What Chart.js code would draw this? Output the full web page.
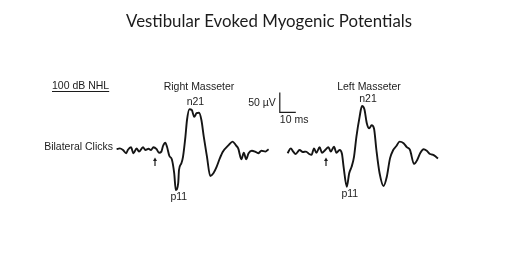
<!DOCTYPE html>
<html>
<head>
<meta charset="utf-8">
<script src="https://cdn.jsdelivr.net/npm/chart.js@4"></script>
<style>
  body { margin: 0; background: #fff; }
  #wrap { width: 520px; height: 258px; }
</style>
</head>
<body>
<div id="wrap"><canvas id="vemp" width="520" height="258"></canvas></div>
<script>
// time in ms after the click (arrow = 0), amplitude in µV (negative = up, n21 is negative)
const rightTime = [-24, -22, -20, -18, -17, -15, -13.5, -11.5, -10, -7.5, -6, -4, -2.5, -1, 1, 2.5, 4, 5, 6.5, 7.5,
  9, 10.5, 12, 13, 14.5, 15, 16.5, 17.5, 19, 20, 21.5, 23, 24.5, 26, 27.5, 29, 30.5, 32.5, 34.5, 36.5,
  38.5, 40.5, 42.5, 46, 48.5, 50.5, 52, 54, 55.5, 57, 58.5, 60.5, 62.5, 64.5, 66.5, 69, 71];
const rightAmp = [-2, -4, 0, 8, 0, -7, 8, -4, 4, -7, 0, -3, 0, -7, -2, 7, 4, -10, -18, -8,
  15, 23, 58, 100, 83, 50, 33, 17, -33, -75, -102, -100, -83, -92, -93, -75, -33, 17, 65, 58,
  42, 21, 4, -12, -21, -12, -4, 23, 7, 23, 8, 2, 4, 8, 2, 4, -2];

const leftTime = [-24, -22, -20.5, -19, -16.5, -14.5, -12.5, -10.5, -9, -7.5, -6, -4, -2.5, -0.5, 1.5, 3, 5, 6.5, 8.5, 10,
  11, 13, 14.5, 16, 17.5, 19, 21, 22.5, 24, 25.5, 27, 28.5, 30, 31.5, 33.5, 36, 38, 40, 42, 44,
  46, 48.5, 50.5, 52.5, 55, 57, 59, 61, 63, 65, 67, 69, 70];
const leftAmp = [8, -4, 4, 10, 0, 5, 4, 10, 12, -4, 7, -7, 7, 0, -7, 4, -8, 7, 0, 10,
  42, 92, 58, 42, 17, -33, -83, -110, -102, -67, -54, -62, -54, 0, 58, 90, 67, 21, 0, -10,
  -21, -17, -7, 0, 35, 25, 7, -2, 2, 10, 12, 18, 21];

const traceNames = ['Right Masseter', 'Left Masseter'];
const scaleBar = { ms: 10, uV: 50 };

const toPoints = (t, a) => t.map((v, i) => ({ x: v, y: a[i] }));

// pick n21 (most negative) and p11 (most positive) from the data
function peaks(t, a) {
  let lo = 0, hi = 0;
  a.forEach((v, i) => { if (v < a[lo]) lo = i; if (v > a[hi]) hi = i; });
  return { n21: { t: t[lo], a: a[lo] }, p11: { t: t[hi], a: a[hi] } };
}

const annotate = {
  id: 'annotate',
  afterDatasetsDraw(chart) {
    const ctx = chart.ctx;
    const xR = chart.scales.xR, xL = chart.scales.xL, y = chart.scales.y;
    ctx.save();
    ctx.fillStyle = '#1c1c1c';
    ctx.strokeStyle = '#1c1c1c';
    ctx.textBaseline = 'middle';

    // title
    ctx.font = '17px Lato';
    ctx.textAlign = 'center';
    ctx.fillText('Vestibular Evoked Myogenic Potentials', 269, 22, 286);

    ctx.font = '10.5px "Liberation Sans"';
    // stimulus label, underlined
    ctx.textAlign = 'left';
    ctx.fillText('100 dB NHL', 52, 86);
    const w = ctx.measureText('100 dB NHL').width;
    ctx.lineWidth = 1;
    ctx.beginPath(); ctx.moveTo(52, 91.5); ctx.lineTo(52 + w, 91.5); ctx.stroke();

    ctx.textAlign = 'right';
    ctx.fillText('Bilateral Clicks', 113, 147);

    ctx.textAlign = 'center';
    ctx.fillText(traceNames[0], 199, 87);
    ctx.fillText(traceNames[1], 369, 87);

    // peak labels
    [[rightTime, rightAmp, xR], [leftTime, leftAmp, xL]].forEach(([t, a, xs]) => {
      const p = peaks(t, a);
      ctx.fillText('n21', xs.getPixelForValue(p.n21.t) + 6, y.getPixelForValue(p.n21.a) - 7);
      ctx.fillText('p11', xs.getPixelForValue(p.p11.t) + 3, y.getPixelForValue(p.p11.a) + 7);

      // click arrow at t = 0
      const ax = xs.getPixelForValue(0);
      ctx.lineWidth = 1.2;
      ctx.beginPath(); ctx.moveTo(ax, 166); ctx.lineTo(ax, 159); ctx.stroke();
      ctx.beginPath(); ctx.moveTo(ax - 2, 161); ctx.lineTo(ax, 157.5); ctx.lineTo(ax + 2, 161); ctx.closePath(); ctx.fill();
    });

    // calibration bar
    const bx = xR.getPixelForValue(78), by = y.getPixelForValue(-94);
    const top = y.getPixelForValue(-94 - scaleBar.uV);
    const right = xR.getPixelForValue(78 + scaleBar.ms);
    ctx.lineWidth = 1.2;
    ctx.beginPath(); ctx.moveTo(bx, top); ctx.lineTo(bx, by); ctx.lineTo(right, by); ctx.stroke();
    ctx.textAlign = 'right';
    ctx.fillText(scaleBar.uV + ' \u00b5V', bx - 4, 103);
    ctx.textAlign = 'left';
    ctx.fillText(scaleBar.ms + ' ms', bx, 120);
    ctx.restore();
  }
};

new Chart(document.getElementById('vemp'), {
  type: 'scatter',
  data: {
    datasets: [
      { label: traceNames[0], data: toPoints(rightTime, rightAmp), xAxisID: 'xR' },
      { label: traceNames[1], data: toPoints(leftTime, leftAmp), xAxisID: 'xL' }
    ]
  },
  options: {
    responsive: false,
    animation: false,
    devicePixelRatio: 1,
    showLine: true,
    layout: { padding: 0 },
    elements: {
      point: { radius: 0 },
      line: { borderColor: '#151515', borderWidth: 1.9, cubicInterpolationMode: 'monotone' }
    },
    plugins: { legend: { display: false }, tooltip: { enabled: false } },
    scales: {
      // 1.6 px per ms, each trace on its own axis
      xR: { type: 'linear', display: false, min: -96.875, max: 228.125 },
      xL: { type: 'linear', display: false, min: -203.75, max: 121.25 },
      // 2.5 µV per px, negative up
      y: { type: 'linear', display: false, reverse: true, min: -375, max: 270 }
    }
  },
  plugins: [annotate]
});
</script>
</body>
</html>
